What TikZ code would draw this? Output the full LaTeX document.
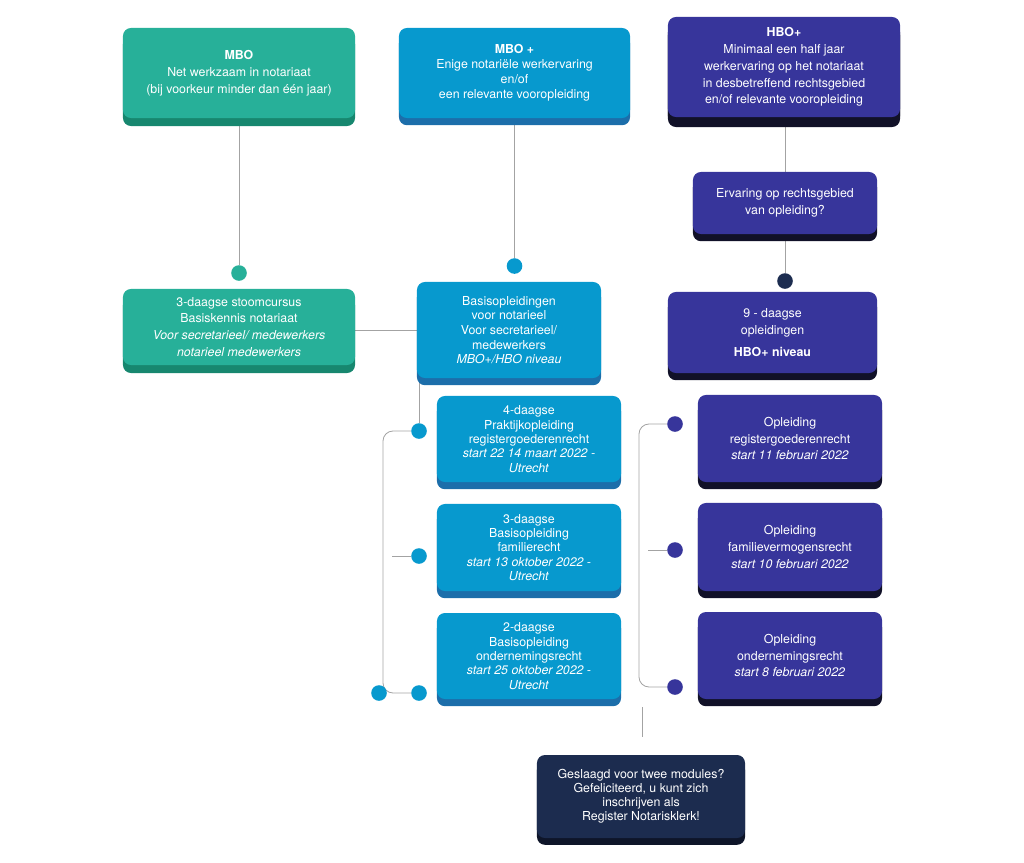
\documentclass[tikz,border=0pt]{standalone}
\usepackage{fontspec}
\setmainfont{TeX Gyre Heros}
\usetikzlibrary{shadows,backgrounds}

\definecolor{mboTeal}{HTML}{27B099}
\definecolor{mboTealDark}{HTML}{17876F}
\definecolor{mbopBlue}{HTML}{0799CE}
\definecolor{mbopBlueDark}{HTML}{1C6EAA}
\definecolor{hboPurple}{HTML}{37359B}
\definecolor{hboPurpleDark}{HTML}{111128}
\definecolor{endNavy}{HTML}{1C2C4F}
\definecolor{endNavyDark}{HTML}{0E1529}
\definecolor{lineGrey}{HTML}{A3A3A3}

\tikzset{
  card/.style={rounded corners=0.2cm, align=center, text=white, inner sep=0pt,
    font=\fontsize{8.8}{12}\selectfont},
  mbocard/.style={card, fill=mboTeal, minimum width=5.8cm,
    drop shadow={shadow xshift=0cm, shadow yshift=-0.2cm, fill=mboTealDark, opacity=1}},
  mbopcard/.style={card, fill=mbopBlue, minimum width=4.6cm,
    drop shadow={shadow xshift=0cm, shadow yshift=-0.18cm, fill=mbopBlueDark, opacity=1}},
  hbocard/.style={card, fill=hboPurple, minimum width=4.6cm,
    drop shadow={shadow xshift=0cm, shadow yshift=-0.18cm, fill=hboPurpleDark, opacity=1}},
  endcard/.style={card, fill=endNavy, minimum width=5.2cm,
    drop shadow={shadow xshift=0cm, shadow yshift=-0.17cm, fill=endNavyDark, opacity=1}},
  link/.style={draw=lineGrey, line width=0.6pt},
  dot/.style={circle, minimum size=0.39cm, inner sep=0pt},
}

\begin{document}
\begin{tikzpicture}[x=0.025cm, y=-0.025cm]
			%%%%% START %%%%%
			\useasboundingbox (0,0) rectangle (1024,862);
			
			% top row
			\node[mbocard, minimum height=2.25cm] (mbo) at (239,73)
				{\textbf{MBO}\\Net werkzaam in notariaat\\(bij voorkeur minder dan één jaar)};
			\node[mbopcard, minimum width=5.775cm, minimum height=2.25cm,
				font=\fontsize{8.8}{10.7}\selectfont] (mbop) at (514.5,73)
				{\textbf{MBO +}\\Enige notariële werkervaring\\en/of\\een relevante vooropleiding};
			\node[hbocard, minimum width=5.8cm, minimum height=2.5cm,
				drop shadow={shadow xshift=0cm, shadow yshift=-0.25cm, fill=hboPurpleDark, opacity=1}] (hbop) at (784,67)
				{\textbf{HBO+}\\Minimaal een half jaar\\werkervaring op het notariaat\\in desbetreffend rechtsgebied\\en/of relevante vooropleiding};
			\node[hbocard, minimum height=1.55cm] (erv) at (785,203)
				{Ervaring op rechtsgebied\\van opleiding?};
			
			% second row
			\node[mbocard, minimum height=1.9cm] (stoom) at (239,327)
				{3-daagse stoomcursus\\Basiskennis notariaat\\\textit{Voor secretarieel/ medewerkers}\\\textit{notarieel medewerkers}};
			\node[mbopcard, minimum height=2.4cm, font=\fontsize{8.8}{10.4}\selectfont] (basis) at (509,330)
				{Basisopleidingen\\voor notarieel\\Voor secretarieel/\\medewerkers\\\textit{MBO+/HBO niveau}};
			\node[hbocard, minimum width=5.225cm, minimum height=2.025cm] (nine) at (772.5,332.5)
				{9 - daagse\\opleidingen\\[4pt]\textbf{HBO+ niveau}};
			
			% blue modules
			\node[mbopcard, minimum height=2.15cm, font=\fontsize{8.8}{10.2}\selectfont] (four) at (529,439)
				{4-daagse\\Praktijkopleiding\\registergoederenrecht\\\textit{start 22 14 maart 2022 -}\\\textit{Utrecht}};
			\node[mbopcard, minimum height=2.175cm, font=\fontsize{8.8}{10.2}\selectfont] (three) at (529,547.5)
				{3-daagse\\Basisopleiding\\familierecht\\\textit{start 13 oktober 2022 -}\\\textit{Utrecht}};
			\node[mbopcard, minimum height=2.15cm, font=\fontsize{8.8}{10.2}\selectfont] (two) at (529,656)
				{2-daagse\\Basisopleiding\\ondernemingsrecht\\\textit{start 25 oktober 2022 -}\\\textit{Utrecht}};
			
			% purple modules
			\node[hbocard, minimum height=2.175cm] (regm) at (790,438.5)
				{Opleiding\\registergoederenrecht\\\textit{start 11 februari 2022}};
			\node[hbocard, minimum height=2.2cm] (famm) at (790,547)
				{Opleiding\\familievermogensrecht\\\textit{start 10 februari 2022}};
			\node[hbocard, minimum height=2.175cm] (ondm) at (790,655.5)
				{Opleiding\\ondernemingsrecht\\\textit{start 8 februari 2022}};
			
			% end
			\node[endcard, minimum height=2.075cm, font=\fontsize{8.8}{9.9}\selectfont] (gesl) at (641,796.5)
				{Geslaagd voor twee modules?\\Gefeliciteerd, u kunt zich\\inschrijven als\\Register Notarisklerk!};
			
			% dots
			\node[dot, fill=mboTeal] (mdot) at (239,273) {};
			\node[dot, fill=mbopBlue] (mpdot) at (514.5,266) {};
			\node[dot, fill=endNavy] (hdot) at (785,281) {};
			\node[dot, fill=mbopBlue] (bdot1) at (419,431) {};
			\node[dot, fill=mbopBlue] (bdot2) at (419,556) {};
			\node[dot, fill=mbopBlue] (bdot3) at (419,693) {};
			\node[dot, fill=mbopBlue] (bdot0) at (379,693) {};
			\node[dot, fill=hboPurple] (rdot1) at (675,424) {};
			\node[dot, fill=hboPurple] (rdot2) at (675,550) {};
			\node[dot, fill=hboPurple] (rdot3) at (675,687) {};
			
			\coordinate (lspine) at (383,560);
			\coordinate (lstub) at (392,556);
			\coordinate (rspine) at (639,550);
			\coordinate (rstub) at (648,550);
			\coordinate (lowa) at (642,707);
			\coordinate (lowb) at (642,737);
			
			% connectors
			\begin{scope}[on background layer]
				\draw[link] (mbo) -- (mdot);
				\draw[link] (mbop) -- (mpdot);
				\draw[link] (hbop.south -| erv) -- (erv);
				\draw[link] (erv) -- (hdot);
				\draw[link] (stoom.east |- basis.west) -- (basis.west);
				\draw[link] (basis.south west -| bdot1) -- (bdot1);
				\draw[link, rounded corners=0.25cm] (bdot1) -| (lspine) |- (bdot3);
				\draw[link] (lstub) -- (bdot2);
				\draw[link, rounded corners=0.25cm] (rdot1) -| (rspine) |- (rdot3);
				\draw[link] (rstub) -- (rdot2);
				\draw[link] (lowa) -- (lowb);
			\end{scope}
			
			%%%%% END %%%%%
\end{tikzpicture}
\end{document}
